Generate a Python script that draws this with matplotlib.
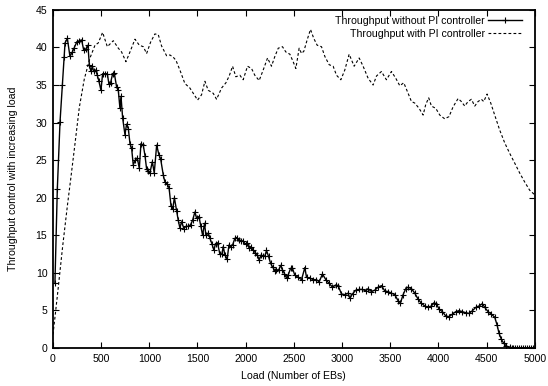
import matplotlib
matplotlib.use("Agg")
import matplotlib.pyplot as plt

plt.rcParams["font.family"] = ["Liberation Sans", "DejaVu Sans"]
plt.rcParams["font.size"] = 7.6

# throughput without the PI controller (sampled load, throughput)
load_nopi = [
    20, 45, 73, 97, 114, 125, 149, 176, 201, 218, 246, 273, 297, 318, 342, 363,
    377, 394, 408, 422, 443, 460, 477, 498, 515, 540, 564, 581, 598, 619, 636,
    661, 678, 695, 706, 723, 747, 764, 782, 799, 816, 833, 854, 875, 896, 913,
    937, 955, 972, 989, 1006, 1031, 1051, 1076, 1100, 1117, 1145, 1162, 1186,
    1205, 1225, 1243, 1260, 1283, 1300, 1317, 1335, 1359, 1380, 1404, 1428,
    1449, 1473, 1490, 1515, 1535, 1553, 1573, 1587, 1611, 1629, 1649, 1670,
    1687, 1708, 1732, 1753, 1767, 1784, 1808, 1826, 1843, 1864, 1888, 1905,
    1930, 1950, 1974, 1999, 2016, 2037, 2054, 2078, 2099, 2120, 2140, 2161,
    2182, 2199, 2216, 2237, 2258, 2279, 2303, 2320, 2344, 2362, 2382, 2403,
    2424, 2441, 2466, 2486, 2510, 2545, 2580, 2614, 2632, 2666, 2701, 2735,
    2763, 2797, 2832, 2867, 2901, 2936, 2960, 2994, 3029, 3064, 3081, 3109,
    3143, 3178, 3212, 3247, 3271, 3306, 3340, 3375, 3410, 3444, 3479, 3513,
    3548, 3582, 3607, 3634, 3662, 3686, 3721, 3755, 3790, 3824, 3859, 3894,
    3928, 3952, 3980, 4008, 4042, 4077, 4111, 4146, 4181, 4215, 4250, 4284,
    4319, 4354, 4388, 4423, 4457, 4482, 4516, 4551, 4585, 4609, 4630, 4654,
    4679, 4706, 4741, 4760, 4780, 4800, 4820, 4840, 4860, 4880, 4900, 4920,
    4940, 4960, 4980, 5000,
]
tput_nopi = [
    8.6, 21.2, 30.1, 35.0, 38.7, 40.6, 41.2, 38.8, 39.4, 39.9, 40.7, 40.9, 41.0,
    39.7, 39.8, 40.3, 37.7, 36.8, 37.5, 36.8, 37.0, 36.3, 35.5, 34.3, 36.5,
    36.5, 36.5, 35.1, 35.3, 36.5, 36.6, 34.7, 34.3, 31.9, 33.5, 30.6, 28.4,
    29.8, 29.2, 27.2, 26.6, 24.4, 25.0, 25.3, 23.9, 27.2, 27.0, 25.6, 23.8,
    23.5, 23.3, 24.8, 23.3, 27.0, 25.7, 25.2, 23.0, 22.1, 21.8, 21.3, 18.9,
    18.5, 20.0, 18.3, 17.0, 16.0, 16.8, 15.9, 16.2, 16.2, 16.4, 17.0, 18.1,
    17.3, 17.5, 16.2, 15.0, 16.6, 15.0, 15.3, 14.6, 13.9, 13.0, 13.9, 14.0,
    12.5, 12.5, 13.5, 12.4, 11.8, 13.7, 13.5, 13.7, 14.6, 14.7, 14.4, 14.3,
    14.2, 13.8, 14.0, 13.3, 13.5, 13.0, 12.7, 12.4, 11.7, 12.4, 12.2, 12.2,
    13.0, 12.2, 11.3, 10.8, 10.3, 10.4, 10.4, 11.0, 10.4, 9.9, 9.3, 9.7, 10.6,
    10.6, 9.7, 9.4, 9.1, 10.7, 9.4, 9.3, 9.1, 9.1, 8.8, 9.85, 9.1, 8.6, 8.1,
    8.4, 8.3, 7.2, 7.1, 7.3, 6.6, 7.2, 7.7, 7.8, 7.8, 7.6, 7.9, 7.5, 7.7, 8.1,
    8.3, 7.6, 7.5, 7.3, 7.1, 6.3, 6.0, 7.1, 7.9, 8.1, 7.9, 7.3, 6.5, 5.95,
    5.6, 5.4, 5.6, 6.0, 5.9, 5.15, 4.84, 4.26, 4.17, 4.5, 4.84, 4.97, 4.84,
    4.7, 4.6, 4.97, 5.4, 5.6, 5.9, 5.4, 4.84, 4.5, 4.1, 3.1, 1.96, 1.16, 0.62,
    0.27, 0.09, 0.06, 0.05, 0.04, 0.03, 0.03, 0.02, 0.02, 0.02, 0.01, 0.01,
    0.01, 0.0, 0.0,
]

# throughput with the PI controller
load_pi = [
    0, 25, 50, 100, 150, 183, 221, 273, 325, 384, 436, 470, 515, 564, 626, 678,
    712, 757, 799, 851, 896, 937, 972, 1013, 1058, 1093, 1127, 1179, 1214,
    1248, 1276, 1317, 1369, 1421, 1456, 1501, 1542, 1577, 1611, 1663, 1698,
    1750, 1795, 1829, 1864, 1898, 1940, 1974, 2019, 2061, 2095, 2140, 2182,
    2227, 2268, 2303, 2338, 2382, 2417, 2459, 2493, 2521, 2555, 2580, 2604,
    2638, 2673, 2707, 2742, 2787, 2822, 2867, 2908, 2943, 2988, 3029, 3074,
    3126, 3178, 3219, 3271, 3323, 3358, 3409, 3461, 3513, 3558, 3600, 3641,
    3686, 3721, 3755, 3800, 3842, 3869, 3900, 3928, 3973, 4015, 4066, 4111,
    4153, 4205, 4239, 4274, 4308, 4343, 4378, 4412, 4447, 4471, 4506, 4544,
    4585, 4637, 4689, 4741, 4793, 4844, 4896, 4948, 5000,
]
tput_pi = [
    1.8, 4.6, 7.5, 13.5, 19.0, 22.4, 26.4, 32.0, 35.8, 38.6, 40.3, 40.6, 42.0,
    40.1, 40.9, 39.9, 39.4, 38.1, 39.4, 41.1, 40.3, 40.1, 39.2, 40.7, 41.8,
    41.7, 40.2, 38.9, 39.0, 38.7, 38.3, 37.0, 35.2, 34.6, 33.9, 33.0, 33.7,
    35.5, 34.3, 33.9, 33.1, 34.6, 35.3, 36.2, 37.5, 36.1, 36.3, 35.7, 37.5,
    37.2, 36.3, 35.6, 37.0, 38.6, 37.5, 38.8, 39.9, 40.1, 39.4, 39.1, 38.1,
    37.2, 39.9, 39.2, 39.5, 41.0, 42.4, 41.2, 40.3, 40.1, 38.8, 37.7, 37.5,
    36.3, 35.7, 37.0, 39.1, 37.5, 38.6, 37.5, 35.9, 35.0, 36.2, 36.8, 35.7,
    36.8, 35.9, 34.9, 35.3, 33.9, 32.8, 32.6, 31.9, 31.0, 32.4, 33.3, 32.2,
    31.9, 31.0, 30.5, 30.8, 32.1, 33.2, 32.8, 32.2, 32.8, 33.1, 32.2, 32.8,
    33.1, 32.8, 33.8, 32.6, 31.0, 29.0, 27.3, 25.9, 24.6, 23.3, 22.1, 21.0,
    20.4,
]

fig = plt.figure(figsize=(5.48, 3.86), dpi=100)
ax = fig.add_axes([0.0967, 0.0984, 0.879, 0.876])

ax.plot(load_nopi, tput_nopi, color="black", lw=1.0, marker="+",
        markersize=4.0, markeredgewidth=0.8,
        label="Throughput without PI controller")
ax.plot(load_pi, tput_pi, color="black", lw=0.8, linestyle=(0, (2.5, 2)),
        label="Throughput with PI controller")

ax.set_xlim(0, 5000)
ax.set_ylim(0, 45)
ax.set_xticks(range(0, 5001, 500))
ax.set_yticks(range(0, 46, 5))
ax.tick_params(direction="in", top=True, right=True, length=4, width=0.8,
               labelsize=7.6, pad=4)
for sp in ax.spines.values():
    sp.set_linewidth(1.3)

ax.set_xlabel("Load (Number of EBs)", labelpad=5)
ax.set_ylabel("Throughput control with increasing load", labelpad=13)

# gnuplot-style key: labels right-aligned, sample after the text
ax.legend(loc="upper right", bbox_to_anchor=(0.973, 0.982), frameon=False,
          markerfirst=False, numpoints=1, handlelength=3.2,
          handletextpad=0.3, labelspacing=0.28, borderaxespad=0.0,
          borderpad=0.0, fontsize=7.6)

fig.savefig("out.png", dpi=100)
